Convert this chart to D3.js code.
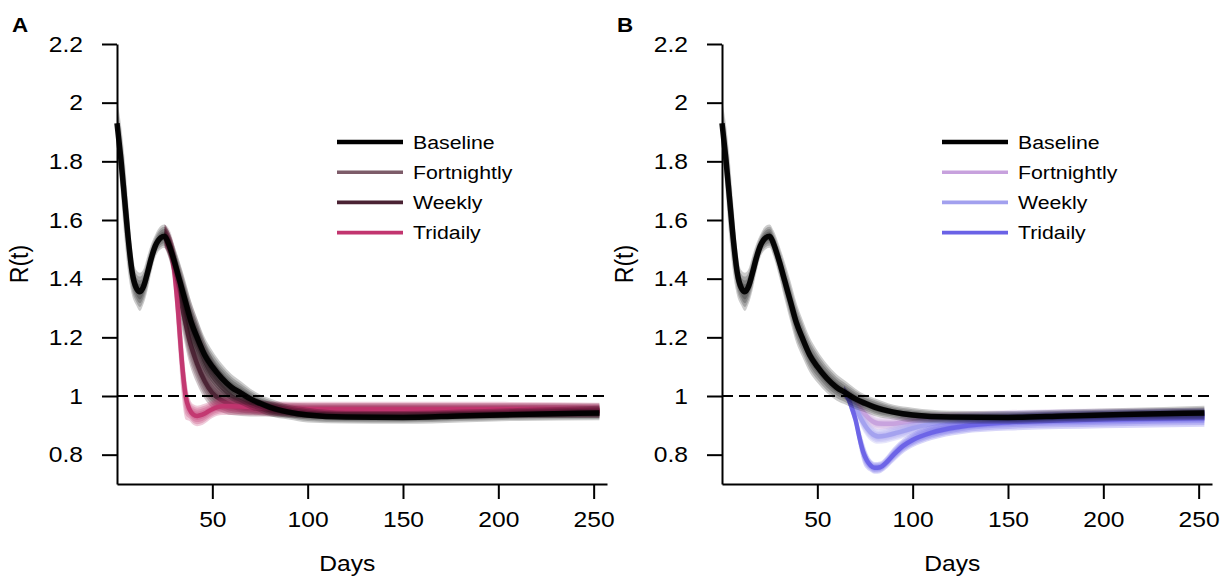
<!DOCTYPE html>
<html><head><meta charset="utf-8">
<script src="https://cdn.jsdelivr.net/npm/d3@7"></script>
<style>
body{margin:0;background:#fff}
svg{display:block;background:#fff}
text{font-family:"Liberation Sans",Arial,Helvetica,sans-serif;fill:#000}
</style>
</head><body>
<svg id="chart" width="1228" height="579"></svg>
<script>
// ---------------- data ----------------
const legendLabels = ["Baseline", "Fortnightly", "Weekly", "Tridaily"];
const coloursA = ["#000000", "#7d5c69", "#4a2233", "#c2356f"];
const coloursB = ["#000000", "#c7a1dd", "#a2a0ee", "#6a62e6"];
const xTicks = [50, 100, 150, 200, 250];
const yTicks = [0.8, 1, 1.2, 1.4, 1.6, 1.8, 2, 2.2];
const threshold = 1;

// baseline (same in both panels)
const baseDays   = [0,2,4,6,8,10,12,14,16,18,20,23,25,27,30,33,36,39,42,46,50,55,60,65,70,75,80,90,100,120,150,180,210,253];
const baseVals   = [1.93,1.81,1.67,1.53,1.42,1.37,1.355,1.375,1.42,1.47,1.51,1.54,1.545,1.52,1.46,1.39,1.32,1.25,1.20,1.14,1.10,1.06,1.03,1.01,0.99,0.975,0.962,0.945,0.935,0.928,0.927,0.932,0.937,0.942];
const baseSpread = [0.08,0.12,0.14,0.12,0.08,0.06,0.065,0.06,0.06,0.05,0.04,0.04,0.04,0.045,0.055,0.065,0.07,0.07,0.065,0.06,0.055,0.05,0.045,0.04,0.035,0.03,0.03,0.025,0.025,0.022,0.022,0.022,0.022,0.025];

// panel A
const aFortDays   = [25,28,30,34,38,42,46,50,55,60,65,70,80,100,150,200,253];
const aFortVals   = [1.545,1.51,1.455,1.35,1.26,1.19,1.12,1.07,1.03,1.0,0.98,0.97,0.955,0.945,0.945,0.946,0.948];
const aFortSpread = [0.04,0.05,0.06,0.08,0.08,0.075,0.07,0.06,0.05,0.04,0.035,0.03,0.025,0.022,0.022,0.022,0.022];
const aWeekDays   = [25,28,30,34,38,42,46,50,55,60,70,80,100,150,200,253];
const aWeekVals   = [1.545,1.50,1.45,1.31,1.19,1.11,1.05,1.01,0.985,0.97,0.96,0.955,0.95,0.95,0.95,0.95];
const aWeekSpread = [0.04,0.05,0.06,0.08,0.08,0.07,0.06,0.05,0.04,0.035,0.03,0.025,0.025,0.025,0.025,0.025];
const aTriDays    = [25,28,30,32,34,36,38,40,42,45,50,55,60,70,80,100,150,200,253];
const aTriVals    = [1.545,1.50,1.43,1.29,1.12,1.00,0.955,0.937,0.932,0.937,0.955,0.965,0.965,0.962,0.958,0.955,0.955,0.955,0.952];
const aTriSpread  = [0.04,0.05,0.08,0.12,0.12,0.08,0.04,0.035,0.035,0.035,0.03,0.03,0.03,0.028,0.025,0.025,0.025,0.025,0.025];

// panel B
const bFortDays   = [64,66,70,74,78,82,88,95,105,125,150,200,253];
const bFortVals   = [1.015,1.0,0.975,0.945,0.918,0.906,0.905,0.91,0.918,0.925,0.93,0.935,0.938];
const bFortSpread = [0.02,0.02,0.022,0.025,0.025,0.022,0.022,0.022,0.022,0.022,0.022,0.022,0.022];
const bWeekDays   = [64,66,70,74,78,82,86,92,100,110,125,150,200,253];
const bWeekVals   = [1.015,1.0,0.96,0.91,0.875,0.862,0.865,0.875,0.89,0.905,0.915,0.925,0.93,0.935];
const bWeekSpread = [0.02,0.02,0.025,0.03,0.028,0.025,0.025,0.025,0.025,0.025,0.025,0.025,0.025,0.025];
const bTriDays    = [64,66,68,70,72,74,76,78,80,83,86,90,95,100,110,125,150,200,253];
const bTriVals    = [1.015,0.995,0.96,0.92,0.86,0.81,0.78,0.763,0.755,0.757,0.772,0.80,0.83,0.85,0.875,0.895,0.91,0.92,0.925];
const bTriSpread  = [0.02,0.02,0.025,0.03,0.04,0.04,0.03,0.022,0.02,0.02,0.022,0.025,0.025,0.025,0.025,0.025,0.028,0.03,0.03];

// ---------------- layout ----------------
const SX = 1.12;               // horizontal text stretch of the reference
const xDomain = [0, 257];
const yDomain = [0.7, 2.2];
const plotTop = 44, plotBottom = 484, plotWidth = 490;

function zip(days, vals, spread) {
  return days.map((d, i) => ({ d, v: vals[i], s: spread[i] }));
}
const baseline = zip(baseDays, baseVals, baseSpread);

const panels = [
  { tag: "A", left: 117, colours: coloursA,
    series: [baseline, zip(aFortDays, aFortVals, aFortSpread), zip(aWeekDays, aWeekVals, aWeekSpread), zip(aTriDays, aTriVals, aTriSpread)],
    legendX: 337 },
  { tag: "B", left: 722, colours: coloursB,
    series: [baseline, zip(bFortDays, bFortVals, bFortSpread), zip(bWeekDays, bWeekVals, bWeekSpread), zip(bTriDays, bTriVals, bTriSpread)],
    legendX: 942 }
];

const svg = d3.select("#chart");

function stretchedText(g, x, y, str, size, opts = {}) {
  const t = g.append("text")
    .attr("transform", `translate(${x},${y}) scale(${SX},1)` + (opts.rotate ? ` rotate(${opts.rotate})` : ""))
    .attr("font-size", size)
    .attr("text-anchor", opts.anchor || "start")
    .text(str);
  if (opts.weight) t.attr("font-weight", opts.weight);
  if (opts.dy) t.attr("dy", opts.dy);
  return t;
}

panels.forEach(p => {
  const g = svg.append("g");
  const x = d3.scaleLinear().domain(xDomain).range([p.left, p.left + plotWidth]);
  const y = d3.scaleLinear().domain(yDomain).range([plotBottom, plotTop]);

  // curves: fortnightly, weekly, tridaily, then baseline on top
  const order = [1, 2, 3, 0];
  order.forEach(k => {
    const data = p.series[k];
    const col = p.colours[k];
    const op = k === 0 ? 0.2 : 0.26;
    [1, 0.8, 0.6, 0.4].forEach(f => {
      const area = d3.area()
        .x(d => x(d.d))
        .y0(d => y(d.v - f * d.s))
        .y1(d => y(d.v + f * d.s))
        .curve(d3.curveMonotoneX);
      g.append("path").datum(data).attr("d", area)
        .attr("fill", col).attr("fill-opacity", op).attr("stroke", "none");
    });
    const line = d3.line().x(d => x(d.d)).y(d => y(d.v)).curve(d3.curveMonotoneX);
    g.append("path").datum(data).attr("d", line)
      .attr("fill", "none").attr("stroke", col).attr("stroke-width", k === 0 ? 5.5 : 4.5)
      .attr("stroke-linejoin", "round").attr("stroke-opacity", 0.95);
  });

  // dashed threshold line
  g.append("line")
    .attr("x1", x(xDomain[0])).attr("x2", x(xDomain[1]))
    .attr("y1", y(threshold)).attr("y2", y(threshold))
    .attr("stroke", "#000").attr("stroke-width", 2).attr("stroke-dasharray", "11,6");

  // axes
  const yAxis = d3.axisLeft(y).tickValues(yTicks).tickFormat(d => String(d))
    .tickSize(15).tickSizeOuter(0).tickPadding(15.4);
  const ya = g.append("g").attr("transform", `translate(${p.left},0)`).call(yAxis);
  const xAxis = d3.axisBottom(x).tickValues(xTicks).tickFormat(d => String(d))
    .tickSize(15).tickSizeOuter(0).tickPadding(12);
  const xa = g.append("g").attr("transform", `translate(0,${plotBottom})`).call(xAxis);
  [ya, xa].forEach(a => {
    a.select(".domain").attr("stroke", "#000").attr("stroke-width", 2);
    a.selectAll(".tick line").attr("stroke", "#000").attr("stroke-width", 2);
    a.selectAll(".tick text").attr("font-size", 22).attr("fill", "#000")
      .attr("font-family", '"Liberation Sans",Arial,Helvetica,sans-serif')
      .attr("transform", `scale(${SX},1)`);
  });

  // axis titles
  stretchedText(g, x(xDomain[0]) + plotWidth * 0.47, 571, "Days", 22, { anchor: "middle" });
  stretchedText(g, p.left - 89, 264, "R(t)", 23, { anchor: "middle", rotate: -90 });

  // panel tag
  stretchedText(g, p.left - 105, 32, p.tag, 20, { weight: "bold" });

  // legend
  legendLabels.forEach((lab, i) => {
    const ly = 142 + i * 30.2;
    g.append("line").attr("x1", p.legendX).attr("x2", p.legendX + 66)
      .attr("y1", ly).attr("y2", ly)
      .attr("stroke", p.colours[i]).attr("stroke-width", i === 0 ? 4.5 : 3.6);
    stretchedText(g, p.legendX + 76, ly, lab, 19, { dy: "0.36em" });
  });
});
</script>
</body></html>
